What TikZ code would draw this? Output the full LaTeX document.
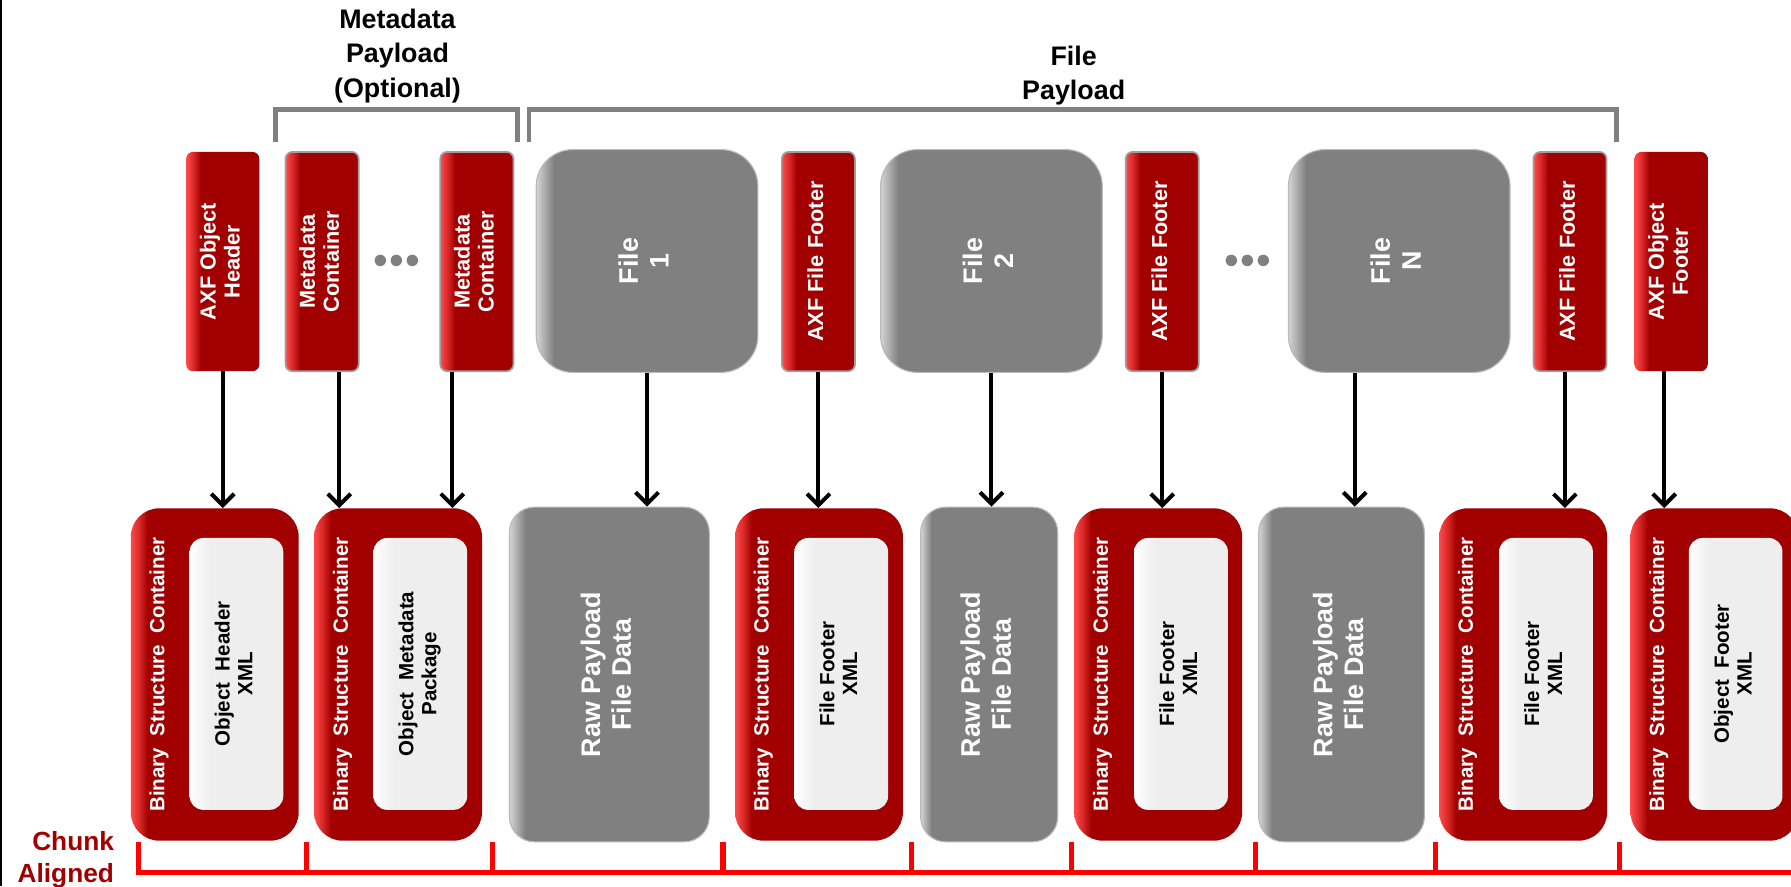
\documentclass[tikz,border=0pt]{standalone}
\usepackage{fontspec}
\setmainfont{Liberation Sans}
\usetikzlibrary{arrows.meta,calc}
\definecolor{rdark}{HTML}{A20000}
\definecolor{rmid}{HTML}{D82828}
\definecolor{rlight}{HTML}{FF4A4A}
\definecolor{gmid}{HTML}{808080}
\definecolor{glight}{HTML}{D4D4D4}
\definecolor{wgray}{HTML}{EEEEEE}
\definecolor{brk}{HTML}{808080}
\definecolor{chunkred}{HTML}{FF0000}
\definecolor{chunktext}{HTML}{A00000}
\pgfdeclarehorizontalshading{redtopsh}{100bp}{color(0bp)=(rlight); color(25bp)=(rlight); color(30bp)=(rmid); color(35bp)=(rdark); color(100bp)=(rdark)}
\pgfdeclarehorizontalshading{redbigsh}{100bp}{color(0bp)=(rlight); color(25bp)=(rlight); color(27.5bp)=(rmid); color(30bp)=(rdark); color(100bp)=(rdark)}
\pgfdeclarehorizontalshading{graysh}{100bp}{color(0bp)=(glight); color(25bp)=(glight); color(29bp)=(gmid); color(100bp)=(gmid)}
\pgfdeclarehorizontalshading{whitesh}{100bp}{color(0bp)=(white); color(25bp)=(white); color(36bp)=(wgray); color(100bp)=(wgray)}
\newcommand{\vtxt}[1]{\rotatebox{90}{\begin{tabular}{@{}c@{}}#1\end{tabular}}}
\begin{document}
\begin{tikzpicture}[x=1pt,y=-1pt,
  redtop/.style={shade, shading=redtopsh, rounded corners=6pt, minimum width=64pt, minimum height=192pt, inner sep=0pt, text=white, font=\fontsize{19}{21}\selectfont\bfseries},
  redtopb/.style={redtop, draw=gray!75, line width=1.5pt},
  filetop/.style={shade, shading=graysh, rounded corners=32pt, minimum width=194pt, minimum height=195pt, inner sep=0pt, draw=gray!55, line width=1pt, text=white, font=\fontsize{23.5}{27}\selectfont\bfseries},
  bsc/.style={shade, shading=redbigsh, rounded corners=25pt, minimum width=147pt, minimum height=291pt, inner sep=0pt},
  innerbox/.style={shade, shading=whitesh, rounded corners=12pt, minimum width=82pt, minimum height=238pt, inner sep=0pt, text=black, font=\fontsize{18}{20}\selectfont\bfseries},
  raw/.style={shade, shading=graysh, rounded corners=22pt, minimum height=293pt, inner sep=0pt, draw=gray!55, line width=1pt, text=white, font=\fontsize{23.5}{27}\selectfont\bfseries},
  bsclabel/.style={inner sep=0pt, text=white, font=\fontsize{18}{20}\selectfont\bfseries},
  arr/.style={line width=3.5pt, -{Straight Barb[length=10pt,width=20pt]}},
  brkt/.style={draw=brk, line width=4pt},
  chunk/.style={draw=chunkred, line width=4.5pt},
  toplabel/.style={align=center, inner sep=0pt, font=\fontsize{23.5}{30}\selectfont\bfseries},
  chunktxt/.style={align=right, inner sep=0pt, text=chunktext, font=\fontsize{23}{28}\selectfont\bfseries},
  dot/.style={fill=gmid}
]
\useasboundingbox (0,0) rectangle (1568,776);
\clip (0,0) rectangle (1568,776);
\fill[white] (0,0) rectangle (1568,776);
\draw[line width=2pt] (1,0) -- (1,776);

% top labels
\node[toplabel] (mdlabel) at (348,49) {Metadata\\Payload\\(Optional)};
\node[toplabel] (fplabel) at (940,66) {File\\Payload};

% brackets
\draw[brkt] (241,124) -- (241,96) -- (453,96) -- (453,124);
\draw[brkt] (463,124) -- (463,96) -- (1415,96) -- (1415,124);

% top row
\node[redtop] (hdr) at (195,229) {\vtxt{AXF Object\\Header}};
\node[redtopb] (mc1) at (282,229) {\vtxt{Metadata\\Container}};
\node[redtopb] (mc2) at (417.5,229) {\vtxt{Metadata\\Container}};
\node[filetop] (f1) at (566.5,228.5) {\vtxt{File\\1}};
\node[redtopb] (ff1) at (716.5,229) {\vtxt{AXF File Footer}};
\node[filetop] (f2) at (868,228.5) {\vtxt{File\\2}};
\node[redtopb] (ff2) at (1017.5,229) {\vtxt{AXF File Footer}};
\node[filetop] (fN) at (1225,228.5) {\vtxt{File\\N}};
\node[redtopb] (ff3) at (1374.5,229) {\vtxt{AXF File Footer}};
\node[redtop] (ftr) at (1463,229) {\vtxt{AXF Object\\Footer}};

% dots
\fill[dot] (333,228) circle (5) (347,228) circle (5) (361,228) circle (5);
\fill[dot] (1078,228) circle (5) (1092,228) circle (5) (1106,228) circle (5);

% bottom row
\node[bsc] (b1) at (188,590.5) {};
\node[innerbox] (i1) at (207,590) {\vtxt{Object~ Header\\XML}};
\node[bsclabel] (l1) at ([xshift=25pt]b1.west) {\rotatebox{90}{Binary~ Structure~ Container}};

\node[bsc] (b2) at (348.5,590.5) {};
\node[innerbox] (i2) at (368,590) {\vtxt{Object~ Metadata\\Package}};
\node[bsclabel] (l2) at ([xshift=25pt]b2.west) {\rotatebox{90}{Binary~ Structure~ Container}};

\node[raw, minimum width=175pt] (r1) at (533.5,590.5) {\vtxt{Raw Payload\\File Data}};

\node[bsc] (b3) at (717,590.5) {};
\node[innerbox] (i3) at (736.5,590) {\vtxt{File Footer\\XML}};
\node[bsclabel] (l3) at ([xshift=25pt]b3.west) {\rotatebox{90}{Binary~ Structure~ Container}};

\node[raw, minimum width=120pt] (r2) at (866,590.5) {\vtxt{Raw Payload\\File Data}};

\node[bsc] (b4) at (1014,590.5) {};
\node[innerbox] (i4) at (1034,590) {\vtxt{File Footer\\XML}};
\node[bsclabel] (l4) at ([xshift=25pt]b4.west) {\rotatebox{90}{Binary~ Structure~ Container}};

\node[raw, minimum width=145pt] (r3) at (1174.5,590.5) {\vtxt{Raw Payload\\File Data}};

\node[bsc] (b5) at (1333.5,590.5) {};
\node[innerbox] (i5) at (1353.5,590) {\vtxt{File Footer\\XML}};
\node[bsclabel] (l5) at ([xshift=25pt]b5.west) {\rotatebox{90}{Binary~ Structure~ Container}};

\node[bsc] (b6) at (1501,590.5) {};
\node[innerbox] (i6) at (1519.5,590) {\vtxt{Object~ Footer\\XML}};
\node[bsclabel] (l6) at ([xshift=25pt]b6.west) {\rotatebox{90}{Binary~ Structure~ Container}};

% arrows
\draw[arr] (hdr.south) -- (hdr.south |- b1.north);
\draw[arr] ([xshift=15pt]mc1.south) -- ([xshift=15pt]mc1.south |- b2.north);
\draw[arr] ([xshift=-21.5pt]mc2.south) -- ([xshift=-21.5pt]mc2.south |- b2.north);
\draw[arr] (f1.south) -- (f1.south |- r1.north);
\draw[arr] (ff1.south) -- (ff1.south |- b3.north);
\draw[arr] (f2.south) -- (f2.south |- r2.north);
\draw[arr] (ff2.south) -- (ff2.south |- b4.north);
\draw[arr] ([xshift=-39pt]fN.south) -- ([xshift=-39pt]fN.south |- r3.north);
\draw[arr] ([xshift=-4.5pt]ff3.south) -- ([xshift=-4.5pt]ff3.south |- b5.north);
\draw[arr] ([xshift=-6pt]ftr.south) -- ([xshift=-6pt]ftr.south |- b6.north);

% chunk aligned
\draw[chunk] (121,737) -- (121,764) -- (1580,764);
\foreach \cx in {268,431,633,798,938,1099,1257,1418}
  \draw[chunk] (\cx,737) -- (\cx,764);
\node[chunktxt, anchor=east] (chunklabel) at (100,753) {Chunk\\Aligned};
\end{tikzpicture}
\end{document}
